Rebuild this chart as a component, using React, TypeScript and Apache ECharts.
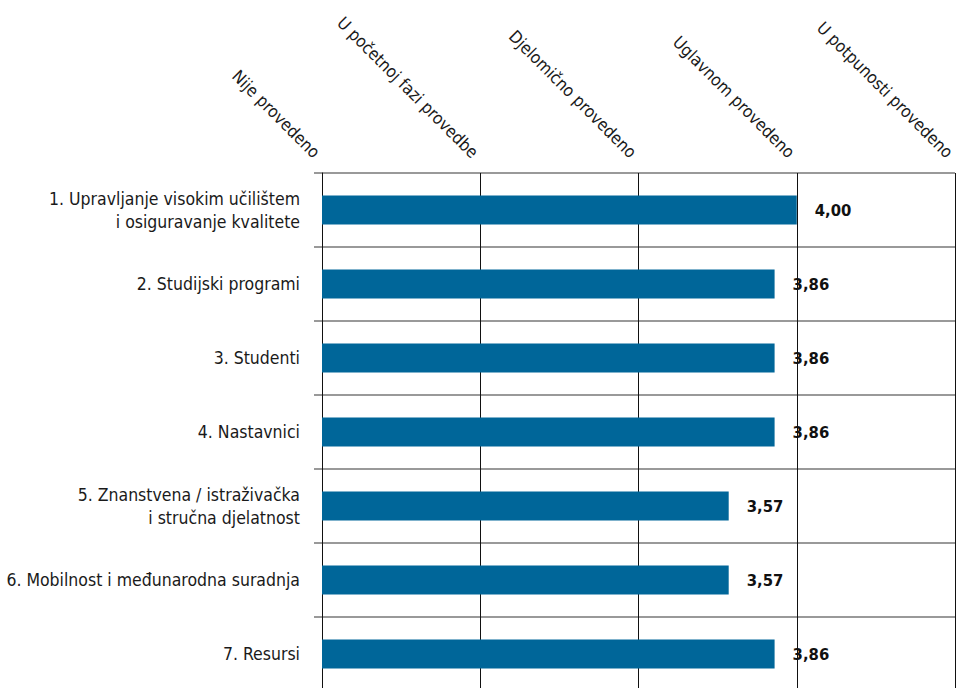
import React, { useEffect, useRef } from "react";
import * as echarts from "echarts";

const categories = [
  "1. Upravljanje visokim učilištem\ni osiguravanje kvalitete",
  "2. Studijski programi",
  "3. Studenti",
  "4. Nastavnici",
  "5. Znanstvena / istraživačka\ni stručna djelatnost",
  "6. Mobilnost i međunarodna suradnja",
  "7. Resursi",
];
const values = [4.0, 3.86, 3.86, 3.86, 3.57, 3.57, 3.86];
const levelLabels = [
  "Nije provedeno",
  "U početnoj fazi provedbe",
  "Djelomično provedeno",
  "Uglavnom provedeno",
  "U potpunosti provedeno",
];

const FONT = "'DejaVu Sans Condensed', 'Liberation Sans Narrow', 'Noto Sans', sans-serif";

export default function App() {
  const ref = useRef<HTMLDivElement>(null);
  useEffect(() => {
    if (!ref.current) return;
    const chart = echarts.init(ref.current, undefined, { renderer: "svg" });
    chart.setOption({
      animation: false,
      backgroundColor: "#ffffff",
      grid: {
        left: 322,
        right: 2,
        top: 173,
        bottom: -3,
        containLabel: false,
        outerBoundsMode: "none",
      },
      xAxis: {
        type: "value",
        position: "top",
        min: 1,
        max: 5,
        interval: 1,
        axisLine: { show: false },
        axisTick: { show: false },
        splitLine: { show: true, lineStyle: { color: "#111111", width: 1 } },
        axisLabel: {
          rotate: 45,
          margin: 23,
          verticalAlign: "top",
          lineHeight: 14,
          fontFamily: FONT,
          fontSize: 17,
          color: "#1a1a1a",
          hideOverlap: false,
          formatter: (v: number) => levelLabels[Math.round(v) - 1] ?? "",
        },
      },
      yAxis: {
        type: "category",
        inverse: true,
        data: categories,
        axisLine: { show: true, lineStyle: { color: "#111111", width: 1 } },
        axisTick: { show: true, length: 8, lineStyle: { color: "#777777", width: 1.5 } },
        splitLine: { show: true, lineStyle: { color: "#777777", width: 1.5 } },
        axisLabel: {
          margin: 22,
          fontFamily: FONT,
          fontSize: 17.5,
          lineHeight: 23,
          color: "#1a1a1a",
          align: "right",
        },
      },
      series: [
        {
          type: "bar",
          data: values,
          barWidth: 29,
          itemStyle: { color: "#006699" },
          label: {
            show: true,
            position: "right",
            distance: 18,
            fontFamily: FONT,
            fontWeight: "bold",
            fontSize: 16.5,
            color: "#111111",
            formatter: (p: any) => Number(p.value).toFixed(2).replace(".", ","),
          },
        },
      ],
    });
    return () => chart.dispose();
  }, []);
  return (
    <div
      ref={ref}
      style={{ position: "absolute", left: 0, top: 0, width: 957, height: 688 }}
    />
  );
}
